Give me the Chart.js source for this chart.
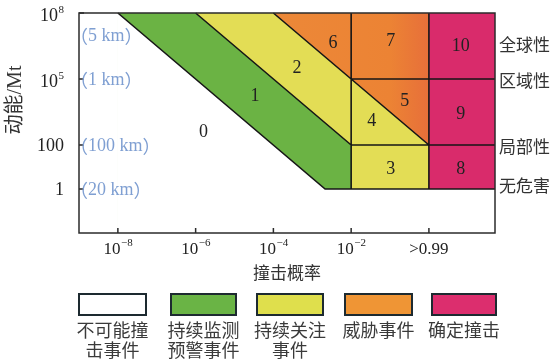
<!DOCTYPE html>
<html>
<head>
<meta charset="utf-8">
<script src="https://cdn.jsdelivr.net/npm/chart.js@4.4.1/dist/chart.umd.min.js"></script>
<style>
  html, body { margin: 0; padding: 0; background: #fff; }
  #wrap { position: relative; width: 555px; height: 359px; }
  #legend { position: absolute; left: 0; top: 0; width: 555px; height: 359px; pointer-events: none; }
  .item { position: absolute; top: 293px; }
  .swatch { box-sizing: border-box; height: 23px; border: 2.5px solid #1d2a30; }
  .cap { position: absolute; top: 26px; left: -20px; right: -20px; text-align: center;
         font: 18px/20px "Noto Sans CJK SC", sans-serif; color: #3a3a3a; }
</style>
</head>
<body>
<div id="wrap">
  <canvas id="c" width="555" height="359"></canvas>
  <div id="legend"></div>
</div>
<script>
// x = log10(impact probability), y = log10(kinetic energy in Mt)
const probTicks = [-8, -6, -4, -2, 0];
const probTickBase = ['10', '10', '10', '10', '>0.99'];
const probTickExp = ['−8', '−6', '−4', '−2', ''];

const energyTicks = [8, 5, 2, 0];
const energyTickBase = ['10', '10', '100', '1'];
const energyTickExp = ['8', '5', '', ''];

// equivalent impactor diameters
const diameterLabels = ['5 km', '1 km', '100 km', '20 km'];
const diameterAt = [7, 5, 2, 0];

// consequence classes on the right-hand side
const effectLabels = ['全球性', '区域性', '局部性', '无危害'];
const effectAt = [6.55, 4.95, 1.95, 0.15];

// upper outline of each colour band; each band is filled down to the axis floor
const redTop = [[0, 8], [1.7, 8]];
const orangeTop = [[-4, 8], [0, 8]];
const yellowTop = [[-6, 8], [-4, 8], [-2, 5], [0, 2]];
const greenTop = [[-8, 8], [-6, 8], [-2, 2]];
const clearTop = [[-8, 8], [-2.67, 0], [1.7, 0]];

// black dividing lines between the scale levels
const dividers = [
  [[-8, 8], [-2.67, 0], [1.7, 0]],
  [[-6, 8], [-2, 2]],
  [[-4, 8], [-2, 5], [0, 2]],
  [[-2, 0], [-2, 8]],
  [[0, 0], [0, 8]],
  [[-2, 5], [1.7, 5]],
  [[-2, 2], [1.7, 2]]
];

// Torino scale levels and where each number sits (data units)
const levelText = ['0', '1', '2', '3', '4', '5', '6', '7', '8', '9', '10'];
const levelX = [-5.80, -4.47, -3.39, -0.98, -1.47, -0.62, -2.47, -0.98, 0.82, 0.82, 0.82];
const levelY = [2.60, 4.20, 5.49, 0.90, 3.10, 4.01, 6.62, 6.70, 0.90, 3.41, 6.51];

// legend
const legendNames = [['不可能撞', '击事件'], ['持续监测', '预警事件'], ['持续关注', '事件'], ['威胁事件'], ['确定撞击']];
const legendColors = ['#ffffff', '#6ab445', '#dfdf4c', '#ef9535', '#dc2e6e'];

const SERIF = '"Liberation Serif", "Noto Sans CJK SC", serif';
const CJK = '"Noto Sans CJK SC", sans-serif';

const toPts = arr => arr.map(p => ({ x: p[0], y: p[1] }));
const dividerPts = [];
dividers.forEach((path, i) => {
  if (i > 0) dividerPts.push({ x: path[0][0], y: null });
  path.forEach(p => dividerPts.push({ x: p[0], y: p[1] }));
});

function orangeFill(ctx) {
  const chart = ctx.chart;
  if (!chart.chartArea) return '#ec8536';
  const xs = chart.scales.x;
  const g = chart.ctx.createLinearGradient(xs.getPixelForValue(-4), 0, xs.getPixelForValue(0), 0);
  g.addColorStop(0, '#ec8838');
  g.addColorStop(0.75, '#ec8334');
  g.addColorStop(1, '#e76f3a');
  return g;
}

const band = (data, color) => ({
  data: toPts(data), showLine: true, fill: 'start', backgroundColor: color,
  borderWidth: 0, pointRadius: 0, pointHoverRadius: 0
});

const decor = {
  id: 'decor',
  afterDraw(chart) {
    const { ctx, chartArea: a, scales: { x, y } } = chart;
    ctx.save();
    // frame and inward ticks
    ctx.strokeStyle = '#2b2b2b';
    ctx.lineWidth = 1.5;
    ctx.strokeRect(a.left, a.top, a.right - a.left, a.bottom - a.top);
    ctx.beginPath();
    probTicks.forEach(v => { const px = x.getPixelForValue(v); ctx.moveTo(px, a.bottom); ctx.lineTo(px, a.bottom - 5); });
    energyTicks.forEach(v => { const py = y.getPixelForValue(v); ctx.moveTo(a.left, py); ctx.lineTo(a.left + 5, py); });
    ctx.stroke();

    ctx.fillStyle = '#222';
    ctx.textBaseline = 'middle';
    // x tick labels with superscript exponents
    probTicks.forEach((v, i) => {
      const px = x.getPixelForValue(v);
      ctx.font = '17px ' + SERIF;
      const wb = ctx.measureText(probTickBase[i]).width;
      ctx.font = '11px ' + SERIF;
      const we = ctx.measureText(probTickExp[i]).width;
      const left = px - (wb + we) / 2;
      ctx.textAlign = 'left';
      ctx.font = '17px ' + SERIF;
      ctx.fillText(probTickBase[i], left, a.bottom + 17);
      ctx.font = '11px ' + SERIF;
      ctx.fillText(probTickExp[i], left + wb + 0.5, a.bottom + 10);
    });
    // y tick labels
    energyTicks.forEach((v, i) => {
      const py = y.getPixelForValue(v);
      const right = a.left - 15;
      ctx.textAlign = 'right';
      if (energyTickExp[i]) {
        ctx.font = '11px ' + SERIF;
        const we = ctx.measureText(energyTickExp[i]).width;
        ctx.fillText(energyTickExp[i], right, py - 3);
        ctx.font = '18px ' + SERIF;
        ctx.fillText(energyTickBase[i], right - we - 0.5, py + 3);
      } else {
        ctx.font = '18px ' + SERIF;
        ctx.fillText(energyTickBase[i], right, py + 1);
      }
    });
    // axis titles
    ctx.fillStyle = '#333';
    ctx.textAlign = 'center';
    ctx.font = '17px ' + CJK;
    ctx.fillText('撞击概率', (a.left + a.right) / 2, a.bottom + 40);
    ctx.save();
    ctx.translate(16, 100);
    ctx.rotate(-Math.PI / 2);
    ctx.font = '20px ' + SERIF;
    ctx.fillText('动能/Mt', 0, 0);
    ctx.restore();
    // diameter notes in full-width brackets
    ctx.fillStyle = '#7f9fd2';
    ctx.textAlign = 'left';
    diameterLabels.forEach((t, i) => {
      const py = y.getPixelForValue(diameterAt[i]) + 1;
      let px = a.left - 9;
      ctx.font = '18px ' + CJK;
      ctx.fillText('（', px, py);
      px += ctx.measureText('（').width;
      ctx.font = '18px ' + SERIF;
      ctx.fillText(t, px, py);
      px += ctx.measureText(t).width;
      ctx.font = '18px ' + CJK;
      ctx.fillText('）', px, py);
    });
    // consequence classes
    ctx.fillStyle = '#333';
    ctx.font = '17px ' + CJK;
    effectLabels.forEach((t, i) => ctx.fillText(t, a.right + 4, y.getPixelForValue(effectAt[i])));
    // scale level numbers
    ctx.fillStyle = '#222';
    ctx.textAlign = 'center';
    ctx.font = '18px ' + SERIF;
    levelText.forEach((t, i) => ctx.fillText(t, x.getPixelForValue(levelX[i]), y.getPixelForValue(levelY[i])));
    ctx.restore();
  }
};

new Chart(document.getElementById('c'), {
  type: 'scatter',
  data: {
    datasets: [
      { data: dividerPts, showLine: true, spanGaps: false, fill: false, borderColor: '#161616',
        borderWidth: 1.6, pointRadius: 0, pointHoverRadius: 0, clip: false },
      band(clearTop, '#ffffff'),
      band(greenTop, '#6bb344'),
      band(yellowTop, '#e3dd55'),
      { ...band(orangeTop, '#ec8536'), backgroundColor: orangeFill },
      band(redTop, '#d92b6b')
    ]
  },
  options: {
    responsive: false,
    animation: false,
    devicePixelRatio: 1,
    layout: { padding: { left: 79, top: 13, right: 60, bottom: 126 } },
    plugins: { legend: { display: false }, tooltip: { enabled: false } },
    events: [],
    scales: {
      x: { type: 'linear', min: -9, max: 1.7, display: false },
      y: { type: 'linear', min: -2, max: 8, display: false }
    }
  },
  plugins: [decor]
});

// legend swatches with captions underneath
const boxes = [[78, 69], [170, 67], [256, 68], [344, 69], [431, 66]];
const legend = document.getElementById('legend');
legendNames.forEach((lines, i) => {
  const item = document.createElement('div');
  item.className = 'item';
  item.style.left = boxes[i][0] + 'px';
  item.style.width = boxes[i][1] + 'px';
  const sw = document.createElement('div');
  sw.className = 'swatch';
  sw.style.background = legendColors[i];
  const cap = document.createElement('div');
  cap.className = 'cap';
  cap.innerHTML = lines.join('<br>');
  item.appendChild(sw);
  item.appendChild(cap);
  legend.appendChild(item);
});
</script>
</body>
</html>
